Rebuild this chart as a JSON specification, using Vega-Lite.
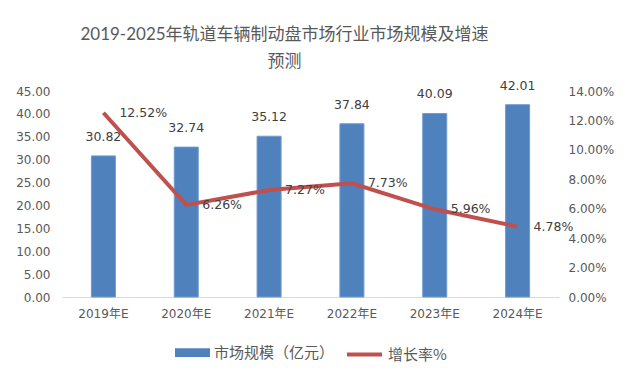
{
  "$schema": "https://vega.github.io/schema/vega-lite/v6.json",
  "width": 497,
  "height": 206,
  "autosize": {"type": "none"},
  "padding": {"left": 62, "top": 91, "right": 74, "bottom": 86},
  "background": "white",
  "title": {
    "text": ["2019-2025年轨道车辆制动盘市场行业市场规模及增速", "预测"],
    "font": "Lato, 'Noto Sans CJK SC'",
    "fontSize": 17,
    "fontWeight": "normal",
    "color": "#595959",
    "anchor": "middle",
    "dx": -26,
    "lineHeight": 27,
    "offset": 9
  },
  "data": {
    "values": [
      {"year": "2019年E", "size": 30.82, "rate": 0.1252},
      {"year": "2020年E", "size": 32.74, "rate": 0.0626},
      {"year": "2021年E", "size": 35.12, "rate": 0.0727},
      {"year": "2022年E", "size": 37.84, "rate": 0.0773},
      {"year": "2023年E", "size": 40.09, "rate": 0.0596},
      {"year": "2024年E", "size": 42.01, "rate": 0.0478}
    ]
  },
  "encoding": {
    "x": {
      "field": "year",
      "type": "nominal",
      "sort": null,
      "scale": {"paddingInner": 0.71, "paddingOuter": 0.355},
      "axis": {
        "title": null,
        "labelAngle": 0,
        "ticks": false,
        "domainColor": "#d9d9d9",
        "labelFont": "DejaVu Sans, 'Noto Sans CJK SC'",
        "labelFontSize": 12,
        "labelColor": "#595959",
        "labelPadding": 11
      }
    }
  },
  "layer": [
    {
      "encoding": {
        "y": {
          "field": "size",
          "type": "quantitative",
          "scale": {"domain": [0, 45]},
          "axis": {
            "title": null,
            "values": [0, 5, 10, 15, 20, 25, 30, 35, 40, 45],
            "format": ".2f",
            "grid": false,
            "ticks": false,
            "domain": false,
            "labelFont": "DejaVu Sans",
            "labelFontSize": 12,
            "labelColor": "#595959",
            "labelPadding": 12
          }
        }
      },
      "layer": [
        {
          "mark": {"type": "bar", "stroke": "#6f9bd0", "strokeWidth": 1},
          "encoding": {
            "fill": {
              "datum": "市场规模（亿元）",
              "type": "nominal",
              "scale": {"range": ["#4f81bd"]},
              "legend": {
                "title": null,
                "orient": "bottom",
                "offset": 16,
                "padding": 0,
                "symbolType": "M-1,-0.25H1V0.25H-1Z",
                "symbolSize": 1225,
                "symbolStrokeWidth": 0,
                "labelFont": "Noto Sans CJK SC",
                "labelFontSize": 15,
                "labelColor": "#595959"
              }
            }
          }
        },
        {
          "mark": {"type": "text", "baseline": "bottom", "dy": -12, "font": "DejaVu Sans", "fontSize": 12.5, "color": "#404040"},
          "encoding": {"text": {"field": "size", "type": "quantitative", "format": ".2f"}}
        }
      ]
    },
    {
      "encoding": {
        "y": {
          "field": "rate",
          "type": "quantitative",
          "scale": {"domain": [0, 0.14]},
          "axis": {
            "title": null,
            "orient": "right",
            "values": [0, 0.02, 0.04, 0.06, 0.08, 0.1, 0.12, 0.14],
            "format": ".2%",
            "grid": false,
            "ticks": false,
            "domain": false,
            "labelFont": "DejaVu Sans",
            "labelFontSize": 12,
            "labelColor": "#595959",
            "labelPadding": 9
          }
        }
      },
      "layer": [
        {
          "mark": {"type": "line", "strokeWidth": 4},
          "encoding": {
            "stroke": {
              "datum": "增长率%",
              "type": "nominal",
              "scale": {"range": ["#c0504d"]},
              "legend": {
                "title": null,
                "orient": "bottom",
                "offset": 16,
                "padding": 0,
                "symbolType": "stroke",
                "symbolSize": 1225,
                "symbolStrokeWidth": 4,
                "labelFont": "Noto Sans CJK SC",
                "labelFontSize": 15,
                "labelColor": "#595959"
              }
            }
          }
        },
        {
          "mark": {"type": "text", "align": "left", "baseline": "middle", "dx": 16, "font": "DejaVu Sans", "fontSize": 12.5, "color": "#404040"},
          "encoding": {"text": {"field": "rate", "type": "quantitative", "format": ".2%"}}
        }
      ]
    }
  ],
  "resolve": {"scale": {"y": "independent", "fill": "independent", "stroke": "independent"}},
  "config": {
    "view": {"stroke": null},
    "legend": {"layout": {"bottom": {"anchor": "middle", "direction": "horizontal", "margin": 10}}}
  }
}
